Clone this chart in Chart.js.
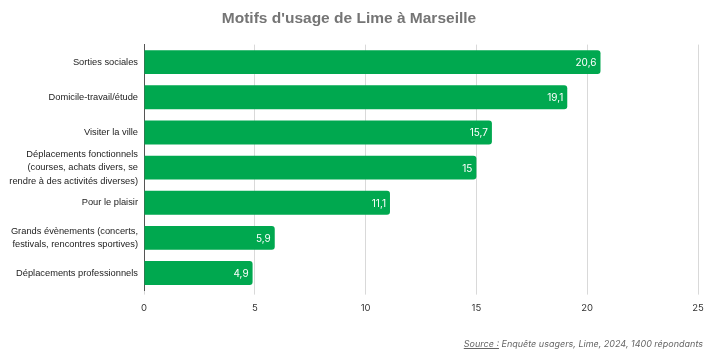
<!DOCTYPE html>
<html lang="fr">
<head>
<meta charset="utf-8">
<script src="https://cdn.jsdelivr.net/npm/chart.js@4"></script>
<style>
  html, body { margin: 0; padding: 0; background: #fff; }
  #wrap { position: relative; width: 713px; height: 353px; }
  #source {
    position: absolute; right: 10px; top: 338px;
    font-family: "Inter", "Open Sans", sans-serif; font-style: italic;
    font-size: 9px; color: #666;
  }
  #source u { text-decoration: underline; }
</style>
</head>
<body>
<div id="wrap">
  <canvas id="chart" width="713" height="353"></canvas>
  <div id="source"><u>Source :</u> Enquête usagers, Lime, 2024, 1400 répondants</div>
</div>
<script>
// Data
const categories = [
  "Sorties sociales",
  "Domicile-travail/étude",
  "Visiter la ville",
  ["Déplacements fonctionnels", "(courses, achats divers, se", "rendre à des activités diverses)"],
  "Pour le plaisir",
  ["Grands évènements (concerts,", "festivals, rencontres sportives)"],
  "Déplacements professionnels"
];
const shares = [20.6, 19.1, 15.7, 15, 11.1, 5.9, 4.9];
const xTicks = [0, 5, 10, 15, 20, 25];

// Writes each value inside the end of its bar (French decimal comma)
const barValues = {
  id: "barValues",
  afterDatasetsDraw(chart) {
    const ctx = chart.ctx;
    const meta = chart.getDatasetMeta(0);
    ctx.save();
    ctx.fillStyle = "#ffffff";
    ctx.font = "10px Inter, sans-serif";
    ctx.textAlign = "right";
    ctx.textBaseline = "middle";
    meta.data.forEach((bar, i) => {
      const txt = String(shares[i]).replace(".", ",");
      ctx.fillText(txt, bar.x - 4, bar.y + 1);
    });
    ctx.restore();
  }
};

const ctx = document.getElementById("chart").getContext("2d");
new Chart(ctx, {
  type: "bar",
  data: {
    labels: categories,
    datasets: [{
      data: shares,
      backgroundColor: "#00a84f",
      borderRadius: 3,
      borderSkipped: "start",
      barPercentage: 0.68,
      categoryPercentage: 1
    }]
  },
  options: {
    indexAxis: "y",
    responsive: false,
    animation: false,
    layout: { padding: { left: 0, right: 15, top: 0, bottom: 31 } },
    plugins: {
      legend: { display: false },
      tooltip: { enabled: false },
      title: {
        display: true,
        text: "Motifs d'usage de Lime à Marseille",
        color: "#757575",
        font: { family: "Liberation Sans, Arial, sans-serif", size: 15.5, weight: "bold" },
        padding: { top: 9, bottom: 17 }
      }
    },
    scales: {
      x: {
        min: 0,
        max: 25,
        afterBuildTicks: (scale) => { scale.ticks = xTicks.map(v => ({ value: v })); },
        grid: { color: "#d9d9d9", drawTicks: true, tickLength: 4 },
        border: { display: false },
        ticks: {
          color: "#333",
          font: { family: "Inter, sans-serif", size: 9.5 },
          padding: 8
        }
      },
      y: {
        afterFit: (scale) => { scale.width = 144; },
        grid: { display: false, drawTicks: false },
        border: { display: true, color: "#555", width: 1 },
        ticks: {
          autoSkip: false,
          color: "#222",
          font: { family: "Liberation Sans, Arial, sans-serif", size: 9.3, lineHeight: 1.45 },
          padding: 6
        }
      }
    }
  },
  plugins: [barValues]
});
</script>
</body>
</html>
